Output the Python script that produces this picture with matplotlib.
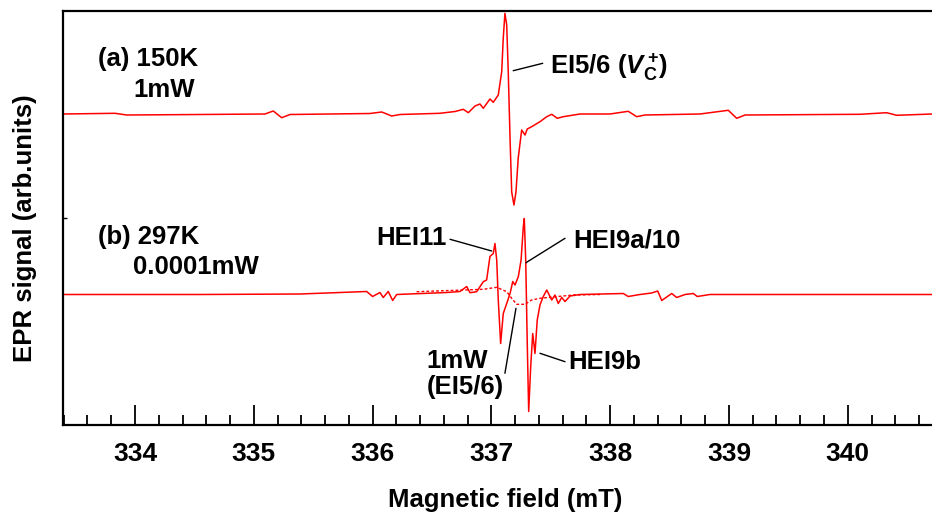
import numpy as np
import matplotlib
matplotlib.use("Agg")
import matplotlib.pyplot as plt
from matplotlib.ticker import MultipleLocator

plt.rcParams['font.family'] = ['Liberation Sans', 'DejaVu Sans']
plt.rcParams['font.weight'] = 'bold'
plt.rcParams['mathtext.fontset'] = 'custom'
plt.rcParams['mathtext.rm'] = 'Liberation Sans:bold'
plt.rcParams['mathtext.it'] = 'Liberation Sans:bold:italic'
plt.rcParams['mathtext.bf'] = 'Liberation Sans:bold'

# (a) 150K, 1mW  -- field (mT) / signal (arb.)
field_a = [333.394, 333.832, 333.93, 334.547, 335.094, 335.164, 335.235, 335.305,
           335.978, 336.077, 336.161, 336.231, 336.567, 336.694, 336.763, 336.806,
           336.862, 336.904, 336.932, 336.988, 337.016, 337.058, 337.087, 337.1,
           337.114, 337.129, 337.142, 337.157, 337.171, 337.19, 337.207, 337.226,
           337.255, 337.283, 337.302, 337.339, 337.409, 337.466, 337.508, 337.555,
           337.605, 337.746, 337.998, 338.152, 338.223, 338.293, 338.756, 338.994,
           339.065, 339.135, 340.103, 340.327, 340.412, 340.709]
signal_a = [0, 0.7, -1, -0.5, 0, 3, -3.7, -0.5,
            0.5, 2, -2, -0.5, 0.7, 2.5, 4.7, 1.3,
            8, 10, 5.7, 15, 11.7, 19, 42.3, 76,
            100.7, 89, 42.3, -24, -78, -91, -78, -44,
            -16, -21, -15, -12.7, -7.7, -2.7, -0.3, -4.3,
            -2.7, 0, 0, 2.7, -2.7, -1, 0, 3.7,
            -4.3, -1, -0.3, 1.3, -1.3, 0]

# (b) 297K, 0.0001mW
field_b = [333.394, 334.547, 335.389, 335.95, 336.0, 336.062, 336.09, 336.132,
           336.169, 336.203, 336.624, 336.736, 336.792, 336.82, 336.876, 336.932,
           336.96, 336.988, 337.016, 337.03, 337.045, 337.058, 337.078, 337.1,
           337.129, 337.157, 337.18, 337.199, 337.227, 337.25, 337.269, 337.277,
           337.289, 337.302, 337.314, 337.331, 337.348, 337.367, 337.386, 337.409,
           337.437, 337.466, 337.508, 337.535, 337.563, 337.592, 337.62, 337.662,
           337.746, 338.11, 338.152, 338.25, 338.349, 338.4, 338.434, 338.518,
           338.56, 338.63, 338.7, 338.733, 338.84, 340.709]
signal_b = [0, 0, 0.5, 3, -2, 2, -3, 3,
            -6, 0, 2, 3, 8, 1.8, 2.8, 12.8,
            14.5, 38, 41, 51, 34.5, -5.5, -49, -19,
            -9, 1, 13, 9.5, 18, 34.5, 68, 76,
            34.5, -49, -117, -72, -39, -59, -25.5, -10.5,
            -2, 4.5, -5.5, -0.5, -9, -3, -7, -1.5,
            0, 1, -2, 0, 1.5, 3.5, -6, 1,
            -3, 0, 1, -2, 0, 0]

# (b) 297K at 1mW, EI5/6 (dashed)
field_b1 = [336.371, 336.652, 336.932, 337.045, 337.129, 337.171, 337.213, 337.283,
            337.339, 337.409, 337.493, 337.689, 337.914]
signal_b1 = [2.8, 4, 5.2, 7.2, 2.8, -3.8, -9.8, -9.8,
             -5.5, -3.8, -2.8, -0.5, 0]

offset_a = 311
offset_b = 130.5

fig = plt.figure(figsize=(9.32, 5.15), dpi=100)
ax = fig.add_axes([63 / 932, 90 / 515, 869 / 932, 414 / 515])

red = '#ff0000'
ax.plot(field_a, np.array(signal_a) + offset_a, color=red, lw=1.1)
ax.plot(field_b, np.array(signal_b) + offset_b, color=red, lw=1.1)
ax.plot(field_b1, np.array(signal_b1) + offset_b, color=red, lw=1.0,
        linestyle=(0, (2, 1.5)))

ax.set_xlim(333.394, 340.709)
ax.set_ylim(0, 414)

ax.xaxis.set_major_locator(MultipleLocator(1))
ax.xaxis.set_minor_locator(MultipleLocator(0.2))
ax.tick_params(axis='x', which='major', direction='in', length=14.4, width=1.3,
               labelsize=19, pad=12, top=False)
ax.tick_params(axis='x', which='minor', direction='in', length=7.2, width=1.3,
               top=False)
ax.set_yticks([207])
ax.set_yticklabels([])
ax.tick_params(axis='y', direction='in', length=3, width=1.0)
for lab in ax.get_xticklabels():
    lab.set_fontweight('bold')

for s in ['left', 'bottom', 'top']:
    ax.spines[s].set_linewidth(1.6)
ax.spines['right'].set_visible(False)

fig.text(505 / 932, 1 - 500 / 515, 'Magnetic field (mT)', ha='center', va='center',
         fontsize=18.5, fontweight='bold')
fig.text(25 / 932, 1 - 228 / 515, 'EPR signal (arb.units)', ha='center', va='center',
         rotation=90, fontsize=18.5, fontweight='bold')

fs = 18.5
ax.text(333.691, 366, '(a) 150K', fontsize=fs, fontweight='bold', va='center')
ax.text(333.986, 335, '1mW', fontsize=fs, fontweight='bold', va='center')
ax.text(333.691, 187.7, '(b) 297K', fontsize=fs, fontweight='bold', va='center')
ax.text(333.986, 158.3, '0.0001mW', fontsize=fs, fontweight='bold', va='center')

line = dict(arrowstyle='-', color='black', lw=1.0, shrinkA=0, shrinkB=0)
ax.annotate('', xy=(337.184, 354.3), xytext=(337.432, 361.7), arrowprops=line)
ax.text(337.493, 358, r'EI5/6 ($\mathit{V}_{\mathrm{C}}^{\,\mathrm{+}}$)', fontsize=fs,
        fontweight='bold', va='center')

ax.annotate('', xy=(337.003, 174), xytext=(336.652, 185.7), arrowprops=line)
ax.text(336.626, 186.7, 'HEI11', fontsize=fs, fontweight='bold', va='center', ha='right')

ax.annotate('', xy=(337.291, 162.3), xytext=(337.62, 186.7), arrowprops=line)
ax.text(337.689, 185, 'HEI9a/10', fontsize=fs, fontweight='bold', va='center')

ax.annotate('', xy=(337.409, 71.7), xytext=(337.62, 63.3), arrowprops=line)
ax.text(337.647, 63.3, 'HEI9b', fontsize=fs, fontweight='bold', va='center')

ax.annotate('', xy=(337.207, 116.7), xytext=(337.114, 51.7), arrowprops=line)
ax.text(336.455, 64.3, '1mW', fontsize=fs, fontweight='bold', va='center')
ax.text(336.455, 38.3, '(EI5/6)', fontsize=fs, fontweight='bold', va='center')

fig.savefig('out.png', dpi=100)
